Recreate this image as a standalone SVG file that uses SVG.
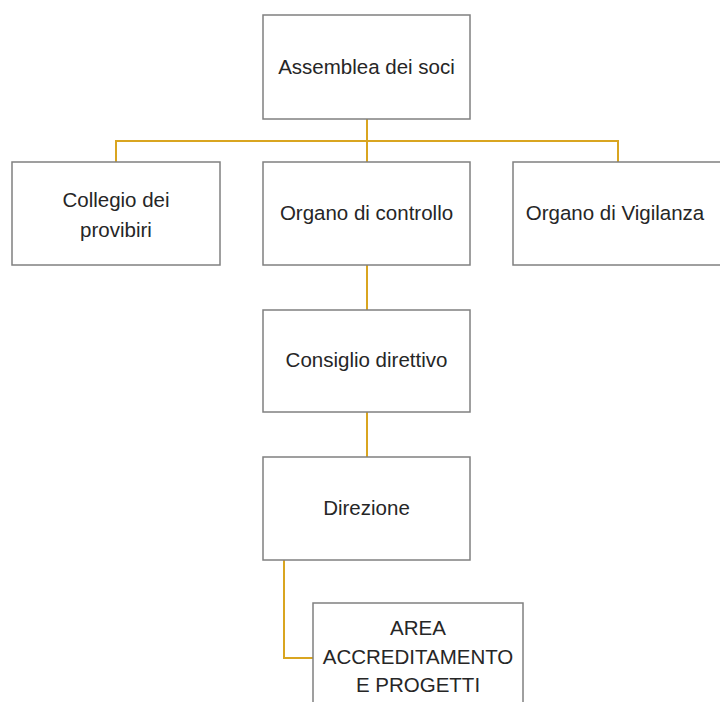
<svg xmlns="http://www.w3.org/2000/svg" width="720" height="702" viewBox="0 0 720 702">
<style>
.box{fill:#ffffff;stroke:#808080;stroke-width:1.5}
.t{font-family:"Liberation Sans",Arial,sans-serif;font-size:20.5px;fill:#262626;text-anchor:middle}
.c{fill:none;stroke:#D9A520;stroke-width:2}
</style>
<rect width="720" height="702" fill="#ffffff"/>
<g id="connectors">
<path class="c" d="M367 119V162"/>
<path class="c" d="M116 162V141H618V162"/>
<path class="c" d="M367 265V310"/>
<path class="c" d="M367 412V457"/>
<path class="c" d="M284 560V658H313"/>
</g>
<g id="assemblea">
<rect class="box" x="263" y="15" width="207" height="104"/>
<text class="t" x="366.5" y="74">Assemblea dei soci</text>
</g>
<g id="collegio">
<rect class="box" x="12" y="162" width="208" height="103"/>
<text class="t" x="116" y="207">Collegio dei</text>
<text class="t" x="116" y="237">provibiri</text>
</g>
<g id="organo-controllo">
<rect class="box" x="263" y="162" width="207" height="103"/>
<text class="t" x="366.5" y="220">Organo di controllo</text>
</g>
<g id="organo-vigilanza">
<rect class="box" x="513" y="162" width="210" height="103"/>
<text class="t" x="615" y="220">Organo di Vigilanza</text>
</g>
<g id="consiglio">
<rect class="box" x="263" y="310" width="207" height="102"/>
<text class="t" x="366.5" y="367">Consiglio direttivo</text>
</g>
<g id="direzione">
<rect class="box" x="263" y="457" width="207" height="103"/>
<text class="t" x="366.5" y="515">Direzione</text>
</g>
<g id="area">
<rect class="box" x="313" y="603" width="210" height="110"/>
<text class="t" x="418" y="635">AREA</text>
<text class="t" x="418" y="664">ACCREDITAMENTO</text>
<text class="t" x="418" y="692">E PROGETTI</text>
</g>
</svg>
